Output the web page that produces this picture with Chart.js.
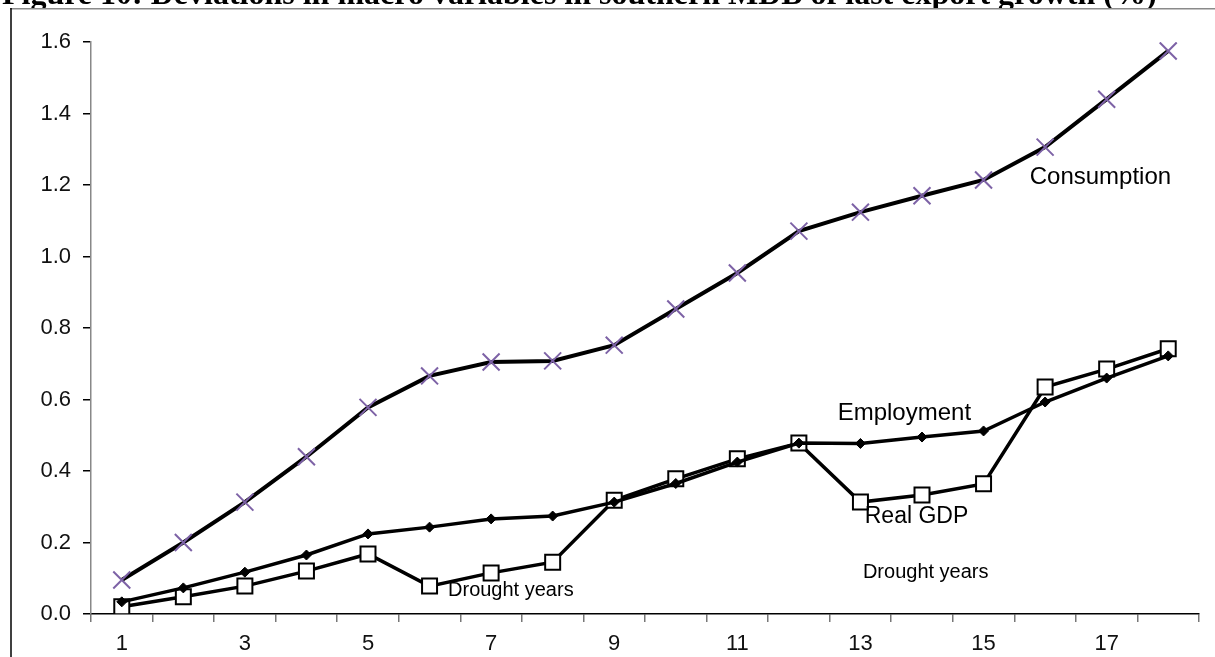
<!DOCTYPE html>
<html>
<head>
<meta charset="utf-8">
<script src="https://cdn.jsdelivr.net/npm/chart.js@4/dist/chart.umd.min.js"></script>
<style>
  html, body { margin: 0; padding: 0; background: #fff; }
  #wrap { position: relative; width: 1215px; height: 657px; }
</style>
</head>
<body>
<div id="wrap"><canvas id="chart"></canvas></div>
<script>
// Years after the shock
const categories = ['1','2','3','4','5','6','7','8','9','10','11','12','13','14','15','16','17','18'];

// Deviations from baseline (%)
const consumption = [0.095, 0.200, 0.313, 0.440, 0.578, 0.666, 0.705, 0.708, 0.752, 0.853, 0.954, 1.071, 1.124, 1.170, 1.214, 1.306, 1.440, 1.575];
const employment  = [0.034, 0.073, 0.117, 0.165, 0.224, 0.243, 0.266, 0.274, 0.313, 0.365, 0.425, 0.478, 0.477, 0.495, 0.512, 0.593, 0.660, 0.722];
const realGdp     = [0.020, 0.048, 0.078, 0.120, 0.168, 0.078, 0.115, 0.145, 0.318, 0.378, 0.434, 0.478, 0.313, 0.333, 0.364, 0.635, 0.685, 0.742];

const yTicks = [0, 0.2, 0.4, 0.6, 0.8, 1.0, 1.2, 1.4, 1.6];

const titleText = 'Figure 10: Deviations in macro variables in southern MDB of last export growth (%)';

// In-chart labels, anchored in data space: [text, category index, value, font size]
const notes = [
  ['Consumption',   14.75, 1.22,  24],
  ['Employment',    11.63, 0.562, 24],
  ['Real GDP',      12.07, 0.271, 23],
  ['Drought years', 12.04, 0.117, 20],
  ['Drought years',  5.30, 0.067, 20]
];

const SANS = '"Liberation Sans", Arial, sans-serif';

const pagePlugin = {
  id: 'page',
  beforeDraw(chart) {
    const ctx = chart.ctx;
    ctx.save();
    ctx.fillStyle = '#fff';
    ctx.fillRect(0, 0, chart.width, chart.height);
    // caption strip across the top
    ctx.beginPath();
    ctx.rect(0, 0, chart.width, 8.5);
    ctx.clip();
    ctx.fillStyle = '#000';
    ctx.font = 'bold 32px "Liberation Serif", "Times New Roman", serif';
    ctx.textAlign = 'left';
    ctx.textBaseline = 'alphabetic';
    ctx.fillText(titleText, 2, 4);
    ctx.restore();

    // frame lines
    ctx.save();
    ctx.strokeStyle = '#8a8a8a';
    ctx.lineWidth = 1.5;
    ctx.beginPath();
    ctx.moveTo(10, 8.75);
    ctx.lineTo(chart.width, 8.75);
    ctx.stroke();
    ctx.strokeStyle = '#000';
    ctx.lineWidth = 1.5;
    ctx.beginPath();
    ctx.moveTo(11, 8);
    ctx.lineTo(11, chart.height);
    ctx.stroke();
    ctx.restore();
  },
  afterDatasetsDraw(chart) {
    const ctx = chart.ctx;
    const xs = chart.scales.x, ys = chart.scales.y;
    ctx.save();
    ctx.fillStyle = '#000';
    ctx.textAlign = 'left';
    ctx.textBaseline = 'middle';
    notes.forEach(([txt, xi, v, size]) => {
      ctx.font = size + 'px ' + SANS;
      ctx.fillText(txt, xs.getPixelForValue(xi), ys.getPixelForValue(v));
    });
    ctx.restore();
  }
};

new Chart(document.getElementById('chart'), {
  type: 'line',
  data: {
    labels: categories,
    datasets: [
      {
        label: 'Consumption',
        data: consumption,
        borderColor: '#000',
        borderWidth: 4,
        tension: 0,
        pointStyle: 'crossRot',
        pointRadius: 12,
        pointBorderWidth: 2,
        pointBorderColor: '#7d62a6',
        pointBackgroundColor: '#7d62a6',
        order: 1
      },
      {
        label: 'Employment',
        data: employment,
        borderColor: '#000',
        borderWidth: 3.5,
        tension: 0,
        pointStyle: 'rectRot',
        pointRadius: 5,
        pointBorderWidth: 1,
        pointBorderColor: '#000',
        pointBackgroundColor: '#000',
        order: 2
      },
      {
        label: 'Real GDP',
        data: realGdp,
        borderColor: '#000',
        borderWidth: 3.5,
        tension: 0,
        pointStyle: 'rect',
        pointRadius: 10.6,
        pointBorderWidth: 2,
        pointBorderColor: '#000',
        pointBackgroundColor: '#fff',
        order: 3
      }
    ]
  },
  options: {
    responsive: true,
    maintainAspectRatio: false,
    animation: false,
    layout: { padding: { left: 0, right: 16, top: 42, bottom: 0 } },
    plugins: {
      legend: { display: false },
      title: { display: false },
      tooltip: { enabled: false }
    },
    scales: {
      x: {
        type: 'category',
        offset: true,
        grid: {
          offset: true,
          drawOnChartArea: false,
          drawTicks: true,
          tickLength: 8,
          tickColor: '#777',
          lineWidth: 1.5
        },
        border: { display: true, color: '#000', width: 1.5 },
        ticks: {
          autoSkip: false,
          maxRotation: 0,
          padding: 9,
          color: '#111',
          font: { family: SANS, size: 22 },
          callback: function (value, index) {
            return index % 2 === 0 ? this.getLabelForValue(value) : '';
          }
        },
        afterFit(scale) { scale.height = 43; }
      },
      y: {
        min: 0,
        max: 1.6,
        afterBuildTicks(scale) { scale.ticks = yTicks.map(v => ({ value: v })); },
        grid: {
          drawOnChartArea: false,
          drawTicks: true,
          tickLength: 8,
          tickColor: '#000',
          lineWidth: 1.5
        },
        border: { display: true, color: '#888', width: 1.5 },
        ticks: {
          padding: 12,
          color: '#111',
          font: { family: SANS, size: 22 },
          callback: v => Number(v).toFixed(1)
        },
        afterFit(scale) { scale.width = 91; }
      }
    }
  },
  plugins: [pagePlugin]
});
</script>
</body>
</html>
